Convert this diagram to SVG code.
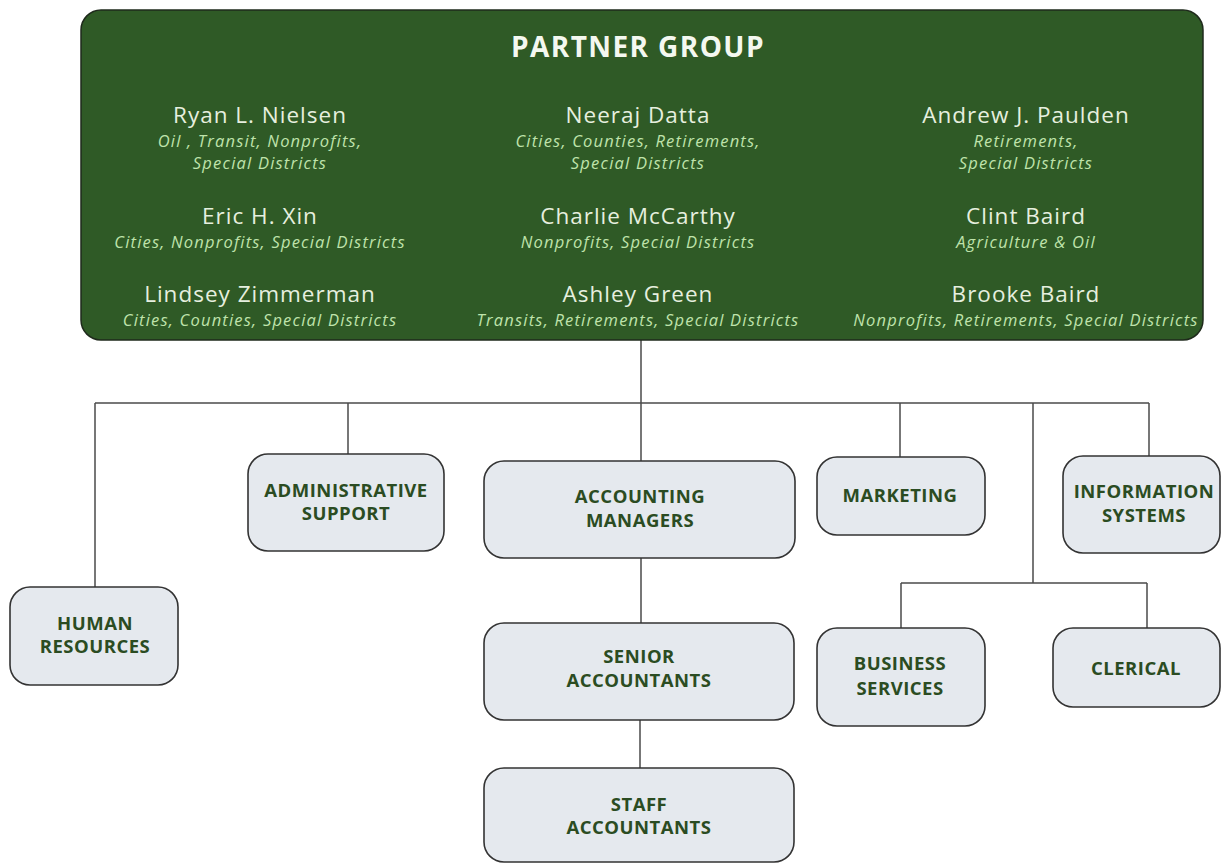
<svg xmlns="http://www.w3.org/2000/svg" width="1223" height="864" viewBox="0 0 1223 864">
<style>
.name{font-family:"Open Sans","Liberation Sans",sans-serif;font-size:22.5px;letter-spacing:1px;fill:#e6efdf;text-anchor:middle}
.sub{font-family:"Open Sans","Liberation Sans",sans-serif;font-size:16.5px;letter-spacing:1.2px;font-style:italic;fill:#bfe3ab;text-anchor:middle}
.title{font-family:"Open Sans","Liberation Sans",sans-serif;font-size:28px;letter-spacing:1.4px;font-weight:700;fill:#f4f8f0;text-anchor:middle}
.box{fill:#e5e9ee;stroke:#333;stroke-width:1.6}
.lbl{font-family:"Open Sans","Liberation Sans",sans-serif;font-size:18.5px;letter-spacing:0.5px;font-weight:700;fill:#2b4c22;text-anchor:middle}
.conn{stroke:#4a4a4a;stroke-width:1.5;fill:none}
</style>
<rect width="1223" height="864" fill="#ffffff"/>
<g id="connectors">
<path class="conn" d="M641 340 V461"/>
<path class="conn" d="M95 403 H1149"/>
<path class="conn" d="M95 403 V587"/>
<path class="conn" d="M348 403 V454"/>
<path class="conn" d="M900 403 V457"/>
<path class="conn" d="M1149 403 V456"/>
<path class="conn" d="M1033 403 V583"/>
<path class="conn" d="M901 583 H1147"/>
<path class="conn" d="M901 583 V628"/>
<path class="conn" d="M1147 583 V628"/>
<path class="conn" d="M641 558 V623"/>
<path class="conn" d="M640 720 V768"/>
</g>
<g id="partner-group">
<rect x="81" y="10" width="1122" height="330" rx="20" fill="#2f5a26" stroke="#1f2a1c" stroke-width="1.5"/>
<text class="title" x="638" y="57">PARTNER GROUP</text>
<text class="name" x="260" y="123">Ryan L. Nielsen</text>
<text class="sub" x="260" y="147">Oil , Transit, Nonprofits,</text>
<text class="sub" x="260" y="169">Special Districts</text>
<text class="name" x="260" y="224">Eric H. Xin</text>
<text class="sub" x="260" y="248">Cities, Nonprofits, Special Districts</text>
<text class="name" x="260" y="302">Lindsey Zimmerman</text>
<text class="sub" x="260" y="326">Cities, Counties, Special Districts</text>
<text class="name" x="638" y="123">Neeraj Datta</text>
<text class="sub" x="638" y="147">Cities, Counties, Retirements,</text>
<text class="sub" x="638" y="169">Special Districts</text>
<text class="name" x="638" y="224">Charlie McCarthy</text>
<text class="sub" x="638" y="248">Nonprofits, Special Districts</text>
<text class="name" x="638" y="302">Ashley Green</text>
<text class="sub" x="638" y="326">Transits, Retirements, Special Districts</text>
<text class="name" x="1026" y="123">Andrew J. Paulden</text>
<text class="sub" x="1026" y="147">Retirements,</text>
<text class="sub" x="1026" y="169">Special Districts</text>
<text class="name" x="1026" y="224">Clint Baird</text>
<text class="sub" x="1026" y="248">Agriculture &amp; Oil</text>
<text class="name" x="1026" y="302">Brooke Baird</text>
<text class="sub" x="1026" y="326">Nonprofits, Retirements, Special Districts</text>
</g>
<g id="human-resources">
<rect class="box" x="10" y="587" width="168" height="98" rx="20"/>
<text class="lbl" x="95" y="630">HUMAN</text>
<text class="lbl" x="95" y="653">RESOURCES</text>
</g>
<g id="administrative-support">
<rect class="box" x="248" y="454" width="196" height="97" rx="20"/>
<text class="lbl" x="346" y="497">ADMINISTRATIVE</text>
<text class="lbl" x="346" y="520">SUPPORT</text>
</g>
<g id="accounting-managers">
<rect class="box" x="484" y="461" width="311" height="97" rx="20"/>
<text class="lbl" x="640" y="503">ACCOUNTING</text>
<text class="lbl" x="640" y="527">MANAGERS</text>
</g>
<g id="senior-accountants">
<rect class="box" x="484" y="623" width="310" height="97" rx="20"/>
<text class="lbl" x="639" y="663">SENIOR</text>
<text class="lbl" x="639" y="687">ACCOUNTANTS</text>
</g>
<g id="staff-accountants">
<rect class="box" x="484" y="768" width="310" height="94" rx="20"/>
<text class="lbl" x="639" y="811">STAFF</text>
<text class="lbl" x="639" y="834">ACCOUNTANTS</text>
</g>
<g id="marketing">
<rect class="box" x="817" y="457" width="168" height="78" rx="20"/>
<text class="lbl" x="900" y="502">MARKETING</text>
</g>
<g id="information-systems">
<rect class="box" x="1063" y="456" width="157" height="97" rx="20"/>
<text class="lbl" x="1144" y="498">INFORMATION</text>
<text class="lbl" x="1144" y="522">SYSTEMS</text>
</g>
<g id="business-services">
<rect class="box" x="817" y="628" width="168" height="98" rx="20"/>
<text class="lbl" x="900" y="670">BUSINESS</text>
<text class="lbl" x="900" y="695">SERVICES</text>
</g>
<g id="clerical">
<rect class="box" x="1053" y="628" width="167" height="79" rx="20"/>
<text class="lbl" x="1136" y="675">CLERICAL</text>
</g>
</svg>
